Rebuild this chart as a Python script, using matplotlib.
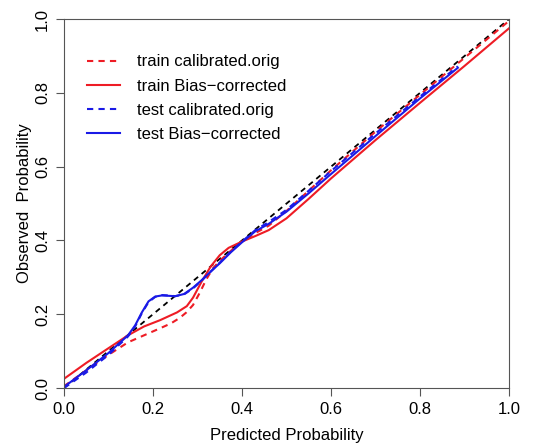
import numpy as np
import matplotlib.pyplot as plt

plt.rcParams['font.family'] = ['Liberation Sans', 'DejaVu Sans']

# train calibrated.orig (red dashed)
train_orig_x = [0, 0.05, 0.10, 0.144, 0.18, 0.216, 0.24, 0.26, 0.275, 0.29, 0.305, 0.32, 0.335, 0.35, 0.375, 0.40, 0.43, 0.46, 0.50,
                0.6, 0.7, 0.8, 0.9, 1.0]
train_orig_y = [0.005, 0.048, 0.09, 0.124, 0.143, 0.162, 0.175, 0.19, 0.205, 0.225, 0.258, 0.295, 0.325, 0.345, 0.372, 0.397, 0.42, 0.44, 0.48,
                0.59, 0.695, 0.795, 0.895, 0.995]

# train Bias-corrected (red solid)
train_bc_x = [0, 0.05, 0.10, 0.144, 0.18, 0.216, 0.254, 0.276, 0.29, 0.31, 0.33, 0.35, 0.37, 0.40, 0.43, 0.46, 0.50,
              0.55, 0.6, 0.7, 0.8, 0.9, 1.0]
train_bc_y = [0.025, 0.068, 0.108, 0.143, 0.167, 0.184, 0.205, 0.222, 0.245, 0.29, 0.33, 0.36, 0.38, 0.397, 0.412, 0.428, 0.46,
              0.513, 0.568, 0.672, 0.773, 0.873, 0.975]

# test calibrated.orig (blue dashed)
test_orig_x = [0, 0.05, 0.10, 0.144, 0.16, 0.175, 0.19, 0.205, 0.22, 0.235, 0.25, 0.27, 0.29, 0.31, 0.33, 0.35, 0.375, 0.40, 0.43, 0.46, 0.50,
               0.55, 0.6, 0.7, 0.8, 0.885]
test_orig_y = [0.0, 0.042, 0.09, 0.14, 0.167, 0.203, 0.233, 0.247, 0.252, 0.251, 0.249, 0.254, 0.27, 0.292, 0.316, 0.34, 0.37, 0.397, 0.428, 0.45, 0.483,
               0.535, 0.588, 0.69, 0.79, 0.872]

# test Bias-corrected (blue solid)
test_bc_x = [0, 0.05, 0.10, 0.144, 0.16, 0.175, 0.19, 0.205, 0.22, 0.235, 0.25, 0.27, 0.29, 0.31, 0.33, 0.35, 0.375, 0.40, 0.43, 0.46, 0.50,
             0.55, 0.6, 0.7, 0.8, 0.885]
test_bc_y = [0.003, 0.048, 0.095, 0.143, 0.17, 0.205, 0.235, 0.248, 0.251, 0.25, 0.249, 0.255, 0.272, 0.293, 0.316, 0.338, 0.368, 0.395, 0.425, 0.445, 0.478,
             0.528, 0.58, 0.683, 0.785, 0.868]

red = '#EE1C25'
blue = '#1A1AE6'
dash = (0, (3, 2.5))

fig = plt.figure(figsize=(5.33, 4.44), dpi=100)
ax = fig.add_axes([0.120, 0.126, 0.835, 0.831])

ax.plot([0, 1], [0, 1], color='black', ls=dash, lw=1.3)
ax.plot(train_orig_x, train_orig_y, color=red, ls=dash, lw=1.5, label='train calibrated.orig')
ax.plot(train_bc_x, train_bc_y, color=red, lw=1.5, label='train Bias\u2212corrected')
ax.plot(test_orig_x, test_orig_y, color=blue, ls=dash, lw=1.5, label='test calibrated.orig')
ax.plot(test_bc_x, test_bc_y, color=blue, lw=1.5, label='test Bias\u2212corrected')

ax.set_xlim(0, 1)
ax.set_ylim(0, 1)
ticks = np.arange(0, 1.01, 0.2)
ax.set_xticks(ticks)
ax.set_yticks(ticks)
ax.set_xticklabels(['%.1f' % t for t in ticks], fontsize=12)
ax.set_yticklabels(['%.1f' % t for t in ticks], fontsize=12, rotation=90, va='center')
ax.tick_params(length=6, color='#555555', pad=4)
for s in ax.spines.values():
    s.set_color('#555555')

ax.set_xlabel('Predicted Probability', fontsize=12, labelpad=8)
ax.set_ylabel('Observed  Probability', fontsize=12, labelpad=2)

ax.legend(loc='upper left', frameon=False, fontsize=12, handlelength=2.0,
          handletextpad=1.0, labelspacing=0.55, bbox_to_anchor=(0.018, 0.945))

fig.savefig('out.png', dpi=100)
